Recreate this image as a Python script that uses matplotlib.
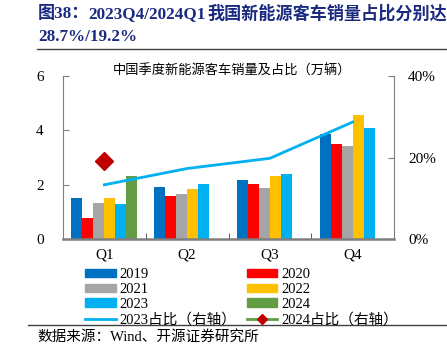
import matplotlib
matplotlib.use("Agg")
import matplotlib.pyplot as plt
import numpy as np
from matplotlib.patches import Patch
from matplotlib.lines import Line2D

plt.rcParams['font.family'] = ['Liberation Serif', 'Noto Sans CJK SC', 'DejaVu Sans']

quarters = ["Q1", "Q2", "Q3", "Q4"]
years = ["2019", "2020", "2021", "2022", "2023", "2024"]
sales = {
    "2019": [1.52, 1.92, 2.17, 3.85],
    "2020": [0.76, 1.58, 2.01, 3.48],
    "2021": [1.33, 1.65, 1.86, 3.43],
    "2022": [1.51, 1.85, 2.32, 4.57],
    "2023": [1.29, 2.01, 2.40, 4.09],
    "2024": [2.33],
}
share_2023 = [13.3, 17.3, 19.8, 28.7]
share_2024 = [19.2]
left_ticks = [0, 2, 4, 6]
right_ticks = [0, 20, 40]

colors = {
    "2019": "#0070C0", "2020": "#FF0000", "2021": "#A5A5A5",
    "2022": "#FFC000", "2023": "#00B0F0", "2024": "#629C44",
}
line_color = "#00B0F0"
diamond_color = "#C00000"
gray = "#7F7F7F"

fig = plt.figure(figsize=(4.47, 3.58), dpi=100)
ax = fig.add_axes([63/447, 1-239/358, (394-63)/447, (239-76)/358])

x = np.arange(len(quarters))
w = 0.1325
for i, y in enumerate(years):
    vals = sales[y]
    xs = x[:len(vals)] + (i - 2.5) * w
    ax.bar(xs, vals, width=w, color=colors[y], edgecolor='none', zorder=2)

ax.set_xlim(-0.5, 3.5)
ax.set_ylim(0, 6)
ax.set_yticks(left_ticks)
ax.set_yticklabels([str(t) for t in left_ticks], fontsize=11)
ax.set_xticks(x)
ax.set_xticklabels(quarters, fontsize=11)
ax.tick_params(axis='x', length=0, pad=7)
ax.set_xticks([0.5, 1.5, 2.5], minor=True)
ax.tick_params(axis='x', which='minor', direction='in', length=4, color='#404040')
ax.tick_params(axis='y', direction='in', length=4, color=gray, pad=14)
for s in ['top', 'right']:
    ax.spines[s].set_visible(False)
ax.spines['left'].set_color(gray)
ax.spines['bottom'].set_color(gray)
ax.spines['bottom'].set_linewidth(1.8)

ax2 = ax.twinx()
ax2.set_ylim(0, 40)
ax2.set_yticks(right_ticks)
ax2.set_yticklabels([f"{t}%" for t in right_ticks], fontsize=11)
ax2.tick_params(axis='y', direction='in', length=4, color=gray, pad=10)
for s in ['top', 'left', 'bottom']:
    ax2.spines[s].set_visible(False)
ax2.spines['right'].set_color(gray)
ax2.plot(x, share_2023, color=line_color, lw=2, zorder=3)
ax2.plot(x[:len(share_2024)], share_2024, marker='D', markersize=9, color=diamond_color,
         markeredgecolor=diamond_color, lw=0, zorder=4)

fig.text(232/447, 1-71/358, "中国季度新能源客车销量及占比（万辆）", ha='center', va='center',
         fontsize=9.5, family=['Noto Sans CJK SC'])

# Title
title_color = "#1A2A80"
tkw = dict(ha='left', va='center', fontsize=12.3, fontweight='bold', color=title_color)
fig.text(38/447, 1-14/358, "图38：", **tkw)
fig.text(88/447, 1-14/358, "2023Q4/2024Q1", **tkw)
fig.text(207/447, 1-14/358, "我国新能源客车销量占比分别达", **tkw)
fig.text(38/447, 1-37/358, "28.7%/19.2%", **tkw)
fig.add_artist(Line2D([37/447, 1.0], [1-49/358, 1-49/358], color='#404040', lw=1, transform=fig.transFigure))
fig.add_artist(Line2D([28/447, 1.0], [1-325/358, 1-325/358], color='#404040', lw=1, transform=fig.transFigure))
fig.text(37/447, 1-337/358, "数据来源：Wind、开源证券研究所", ha='left', va='center', fontsize=10.5)

handles = [
    Patch(color=colors["2019"], label="2019"),
    Patch(color=colors["2021"], label="2021"),
    Patch(color=colors["2023"], label="2023"),
    Line2D([0], [0], color=line_color, lw=2, label="2023占比（右轴）"),
    Patch(color=colors["2020"], label="2020"),
    Patch(color=colors["2022"], label="2022"),
    Patch(color=colors["2024"], label="2024"),
    Line2D([0], [0], color="#629C44", lw=2, marker='D', markersize=5,
           markerfacecolor=diamond_color, markeredgecolor=diamond_color, label="2024占比（右轴）"),
]
leg = fig.legend(handles=handles, ncol=2, loc='upper left', bbox_to_anchor=(85/447, 1-268/358),
                 frameon=False, fontsize=10.5, handlelength=2.1, handleheight=0.5,
                 handletextpad=0.27, columnspacing=0.7, labelspacing=0.13, borderaxespad=0,
                 borderpad=0)

fig.savefig("out.png", dpi=100)
